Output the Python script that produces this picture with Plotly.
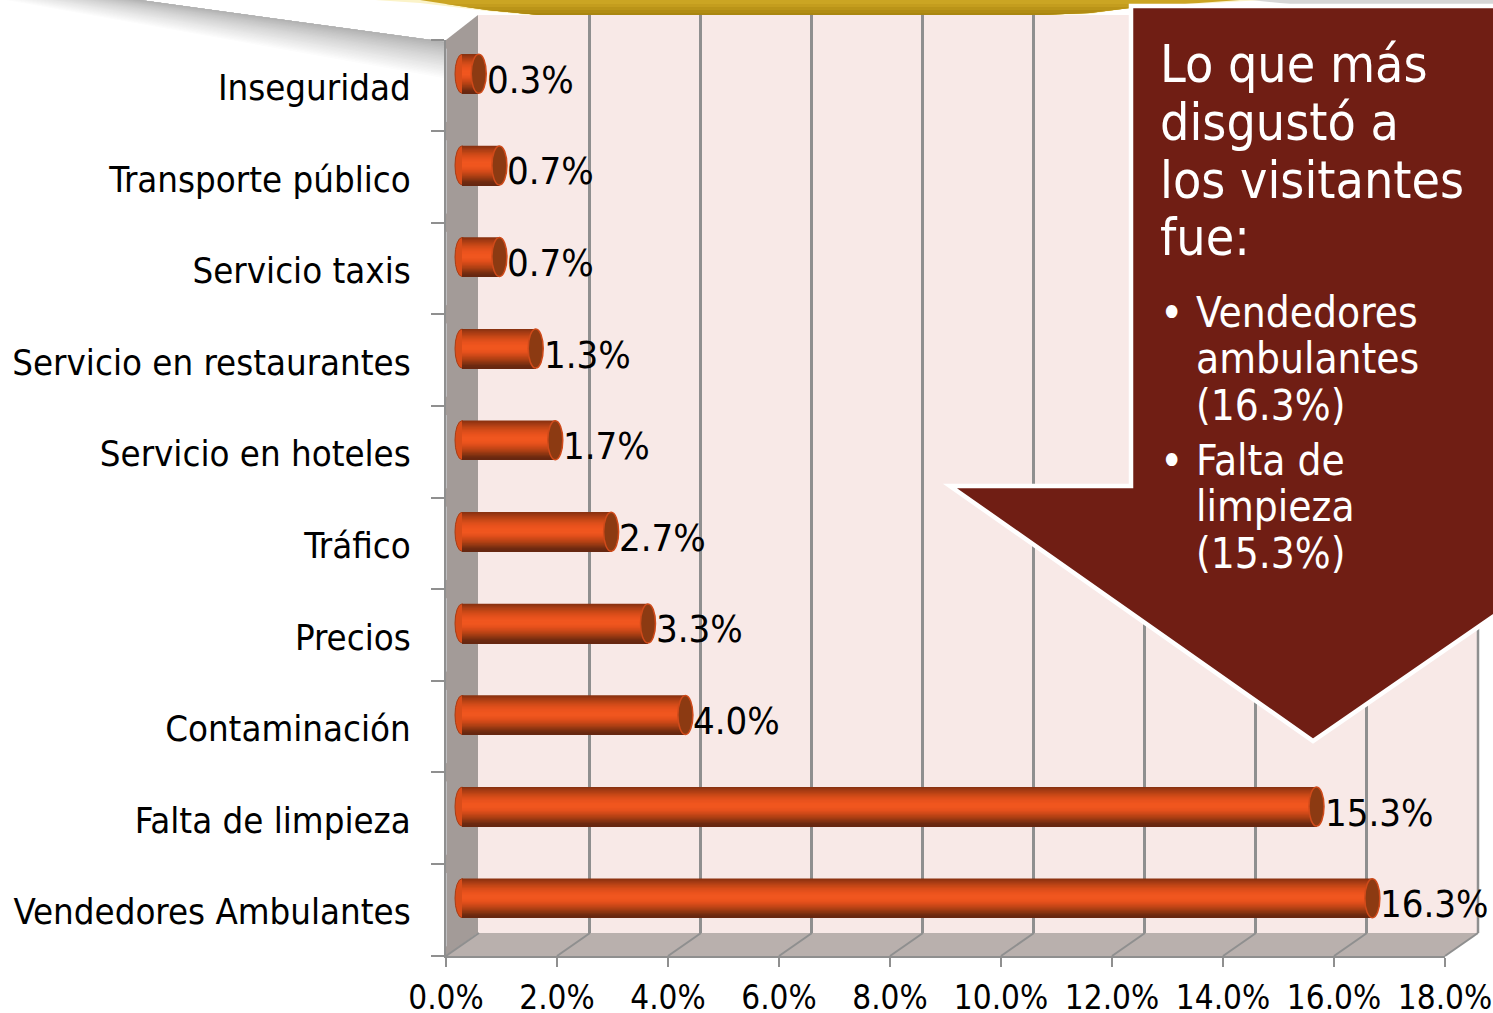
import plotly.graph_objects as go

categories = ["Vendedores Ambulantes", "Falta de limpieza", "Contaminación", "Precios", "Tráfico",
              "Servicio en hoteles", "Servicio en restaurantes", "Servicio taxis", "Transporte público", "Inseguridad"]
drawn_values = [16.3, 15.3, 4.0, 3.33, 2.67, 1.67, 1.32, 0.67, 0.67, 0.3]
value_labels = ["16.3%", "15.3%", "4.0%", "3.3%", "2.7%", "1.7%", "1.3%", "0.7%", "0.7%", "0.3%"]
x_ticks = [0, 2, 4, 6, 8, 10, 12, 14, 16, 18]
x_tick_labels = ["0.0%", "2.0%", "4.0%", "6.0%", "8.0%", "10.0%", "12.0%", "14.0%", "16.0%", "18.0%"]
cylinder_stops = ["#8a3210", "#a83c14", "#c24616", "#d94d1a", "#e8521d", "#f0561f", "#f0561f",
                  "#e4501c", "#cc4818", "#b04014", "#8e3612", "#6e2a10", "#642610"]
headline = ["Lo que más", "disgustó a", "los visitantes", "fue:"]
bullets = [["Vendedores", "ambulantes", "(16.3%)"], ["Falta de", "limpieza", "(15.3%)"]]

W, H = 1493, 1013
FONT = "DejaVu Sans Condensed, DejaVu Sans, sans-serif"
GREY = "#8f8f8f"
BAR_W = 0.43


def px(v):
    return v / W


def py(v):
    return 1 - v / H


def hex_rgb(c):
    return [int(c[i:i + 2], 16) for i in (1, 3, 5)]


def poly(points, fill, line=None, lw=0, layer="below"):
    path = "M " + " L ".join(f"{px(a):.5f},{py(b):.5f}" for a, b in points) + " Z"
    return dict(type="path", xref="paper", yref="paper", path=path, fillcolor=fill, layer=layer,
                line=dict(color=line or fill, width=lw))


shades = []
for a, b in zip(cylinder_stops[:-1], cylinder_stops[1:]):
    ca, cb = hex_rgb(a), hex_rgb(b)
    for s in range(3):
        shades.append("rgb(" + ",".join(str(round(p + (q - p) * s / 3)) for p, q in zip(ca, cb)) + ")")

fig = go.Figure()

# subplot order sets the paint order: back wall (x,y), front axis (x2,y2), bars (x3,y3)
fig.add_trace(go.Scatter(x=[], y=[], xaxis="x", yaxis="y", showlegend=False))
fig.add_trace(go.Bar(x=[0] * len(categories), y=categories, orientation="h", xaxis="x2", yaxis="y2",
                     showlegend=False, hoverinfo="skip", marker_color="rgba(0,0,0,0)"))

n = len(shades)
for i, shade in enumerate(shades):
    fig.add_trace(go.Bar(x=drawn_values, y=categories, orientation="h", xaxis="x3", yaxis="y3",
                         width=BAR_W * (n - i) / n, offset=-BAR_W / 2, marker_color=shade,
                         marker_line_width=0, showlegend=False, hoverinfo="skip"))

shapes = []
# grey drop shadow, top left
for k in range(24, 0, -1):
    t = k / 24
    v = int(172 + 83 * t ** 0.8)
    c = f"rgb({v},{v},{v})"
    shapes.append(poly([(140 - 140 * t, 0), (140, 0), (446, 42), (446, 42 + 38 * t)], c))
shapes.append(poly([(1250, 0), (1493, 0), (1493, 4), (1290, 4)], "#d6d6d6"))
# gold band at the top
shapes.append(poly([(375, 0), (1262, 0), (1130, 8), (1090, 14), (1000, 16), (540, 16), (487, 11), (420, 3)], "#fbf3c8"))
gold_levels = [("#cba523", 0, 420, 1240), ("#c49d1e", 4, 446, 1165), ("#ba9418", 7, 466, 1128),
               ("#b18c13", 10, 487, 1105), ("#a98610", 13, 518, 1075)]
right_edge = [(1130, 8), (1090, 13), (1040, 15), (1000, 15)]
left_edge = [(540, 15), (518, 13), (487, 10), (466, 7), (446, 4), (420, 0)]
for c, d, xl, xr in gold_levels:
    pts = [(xl, d), (xr, d)] + [p for p in right_edge if p[1] > d] + [p for p in left_edge if p[1] > d]
    shapes.append(poly(pts, c))
# walls and floor
shapes.append(poly([(478, 15), (1478, 15), (1478, 933), (478, 933)], "#f8e9e7"))
shapes.append(poly([(446, 40), (478, 15), (478, 933), (446, 956)], "#a39b98"))
shapes.append(poly([(446, 956), (478, 933), (1478, 933), (1445, 956)], "#b9b0ad"))
for t in x_ticks:
    xa = 446 + t * 999 / 18
    shapes.append(dict(type="line", xref="paper", yref="paper", x0=px(xa), y0=py(956), x1=px(xa + 33), y1=py(933),
                       line=dict(color=GREY, width=2), layer="below"))
shapes.append(dict(type="line", xref="paper", yref="paper", x0=px(1478), y0=py(15), x1=px(1478), y1=py(933),
                   line=dict(color=GREY, width=2.5), layer="below"))

# rounded ends of the cylinders
for cat, val in zip(categories, drawn_values):
    shapes.append(dict(type="circle", xref="x3", yref="y3", xsizemode="pixel", ysizemode="pixel",
                       xanchor=0, yanchor=cat, x0=-7, x1=7, y0=-19.5, y1=19.5,
                       fillcolor="#d94d1a", line=dict(color="#a83c14", width=1), layer="below"))
    shapes.append(dict(type="circle", xref="x3", yref="y3", xsizemode="pixel", ysizemode="pixel",
                       xanchor=val, yanchor=cat, x0=-7.5, x1=7.5, y0=-19.5, y1=19.5,
                       fillcolor="#8c3a12", line=dict(color="#cf4a1a", width=1.5), layer="above"))

# callout arrow
shapes.append(poly([(1131, 6), (1500, 6), (1500, 612), (1313, 741), (950, 486), (1131, 486)],
                   "#701e14", "#ffffff", 4.5, layer="above"))

annotations = []
for cat, val, lab in zip(categories, drawn_values, value_labels):
    annotations.append(dict(x=val, y=cat, xref="x3", yref="y3", text=lab, showarrow=False, xanchor="left",
                            yanchor="middle", xshift=6, yshift=-6, font=dict(family=FONT, size=38, color="#000")))

ys = [64, 122, 180, 237]
for line, y in zip(headline, ys):
    annotations.append(dict(x=px(1158), y=py(y), xref="paper", yref="paper", text=line, showarrow=False,
                            xanchor="left", yanchor="middle", font=dict(family=FONT, size=51.5, color="#fff")))
ys2 = [[313, 359, 406], [460, 506, 553]]
for block, yb in zip(bullets, ys2):
    annotations.append(dict(x=px(1171), y=py(yb[0]), xref="paper", yref="paper", text="•", showarrow=False,
                            xanchor="center", yanchor="middle", font=dict(family=FONT, size=44, color="#fff")))
    for line, y in zip(block, yb):
        annotations.append(dict(x=px(1194), y=py(y), xref="paper", yref="paper", text=line, showarrow=False,
                                xanchor="left", yanchor="middle", font=dict(family=FONT, size=42, color="#fff")))

hidden = dict(showgrid=False, zeroline=False, showline=False, showticklabels=False, ticks="")
cat_axis = dict(type="category", categoryorder="array", categoryarray=categories, range=[-0.5, 9.5])
BAR_PX = 55.85

fig.update_layout(
    width=W, height=H, margin=dict(l=0, r=0, t=0, b=0, autoexpand=False), autosize=False,
    paper_bgcolor="#ffffff", plot_bgcolor="rgba(0,0,0,0)", barmode="overlay", showlegend=False,
    shapes=shapes, annotations=annotations,
    xaxis=dict(domain=[px(478), px(1478)], range=[0, 18], anchor="y", tickmode="array", tickvals=x_ticks,
               showgrid=True, gridcolor=GREY, gridwidth=2.5, zeroline=False, showline=False, ticks="",
               showticklabels=False),
    yaxis=dict(domain=[py(933), py(15)], anchor="x", range=[0, 1], **hidden),
    xaxis2=dict(domain=[px(446), px(1445)], range=[0, 18], anchor="y2", tickmode="array", tickvals=x_ticks,
                ticktext=x_tick_labels, ticks="outside", ticklen=9, tickwidth=2, tickcolor=GREY, showgrid=False,
                zeroline=False, showline=True, linecolor=GREY, linewidth=2, ticklabelstandoff=3,
                tickfont=dict(family=FONT, size=33, color="#000")),
    yaxis2=dict(domain=[py(955.5), py(39.5)], anchor="x2", tickson="boundaries", ticks="outside", ticklen=13,
                tickwidth=2, tickcolor=GREY, showgrid=False, zeroline=False, showline=True, linecolor=GREY,
                linewidth=2, ticklabelstandoff=26, ticklabelshift=2,
                tickfont=dict(family=FONT, size=36.3, color="#000"), **cat_axis),
    xaxis3=dict(domain=[px(462 - BAR_PX), px(462 + 18 * BAR_PX)], range=[-1, 18], anchor="y3", **hidden),
    yaxis3=dict(domain=[py(944), py(28)], anchor="x3", **hidden, **cat_axis),
)

fig.write_html("out.html", post_script="document.body.style.margin='0';document.body.style.overflow='hidden';",
               config=dict(displayModeBar=False))
